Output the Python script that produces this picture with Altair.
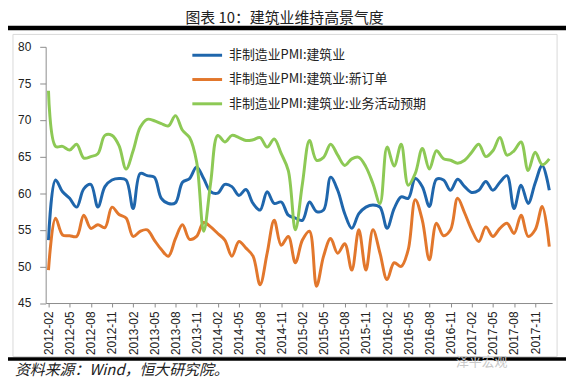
import altair as alt
import pandas as pd

# ---- data ----
months = list(pd.date_range("2012-02-01", periods=72, freq="MS").strftime("%Y-%m"))
tick_labels = months[::3]

s1 = "非制造业PMI:建筑业"
s2 = "非制造业PMI:建筑业:新订单"
s3 = "非制造业PMI:建筑业:业务活动预期"
series_names = [s1, s2, s3]
series_colors = ["#1F66AC", "#E2772C", "#8DC955"]

construction = [
    53.6, 61.8, 60.2, 59.3, 58.1, 60.6, 61.2, 58.1, 60.9, 61.8, 62.0, 61.8,
    57.9, 62.7, 62.4, 62.2, 59.3, 58.6, 58.7, 61.5, 62.0, 63.6, 62.0, 60.2,
    60.0, 61.2, 60.9, 59.7, 60.5, 58.6, 57.7, 60.2, 58.6, 58.8, 57.0, 56.6,
    56.3, 58.8, 57.5, 57.7, 62.2, 60.4, 57.2, 55.2, 57.2, 58.1, 58.4, 58.1,
    55.2, 57.9, 59.5, 59.3, 62.0, 60.9, 58.2, 61.9, 61.8, 60.4, 61.9, 60.9,
    60.1, 60.4, 61.6, 60.4, 61.5, 62.4, 57.9, 61.1, 58.6, 61.4, 63.8, 60.4,
]
new_orders = [
    49.5, 56.6, 54.3, 54.2, 54.1, 57.0, 55.2, 55.7, 55.3, 58.1, 57.1, 56.6,
    54.1, 54.8, 55.0, 53.6, 52.3, 51.4, 53.8, 55.7, 53.7, 54.1, 56.0, 55.4,
    54.5, 53.6, 51.4, 53.4, 52.5, 51.4, 47.5, 51.8, 56.3, 52.9, 54.1, 50.5,
    53.6, 54.8, 47.3, 51.4, 53.8, 51.8, 53.1, 49.5, 55.0, 49.5, 55.0, 51.8,
    48.2, 50.5, 50.0, 52.3, 59.1, 56.3, 50.9, 55.9, 54.2, 55.0, 59.3, 57.3,
    55.0, 53.4, 55.4, 54.1, 55.2, 55.9, 54.5, 57.0, 54.1, 55.0, 58.2, 52.7,
]
expectations = [
    74.0, 66.4, 66.4, 65.9, 66.7, 64.8, 65.0, 65.4, 67.9, 67.9, 66.5, 63.3,
    65.8, 69.0, 70.1, 69.9, 69.5, 69.2, 70.6, 68.6, 67.6, 64.3, 54.8, 61.5,
    67.9, 67.0, 67.9, 67.6, 67.2, 67.3, 67.6, 66.3, 67.4, 65.4, 63.1, 55.0,
    61.3, 67.2, 64.5, 64.9, 66.7, 65.2, 63.8, 64.7, 64.9, 63.6, 61.3, 58.6,
    66.3, 63.7, 66.7, 61.1, 62.7, 66.1, 63.3, 65.8, 64.7, 64.5, 64.1, 64.5,
    65.6, 66.7, 65.0, 65.8, 67.6, 65.2, 65.8, 67.0, 63.1, 65.6, 63.9, 64.7,
]

y_ticks = [45, 50, 55, 60, 65, 70, 75, 80]

title_text = "图表 10：建筑业维持高景气度"
source_text = "资料来源：Wind，恒大研究院。"
watermark_text = "泽平宏观"

# ---- table ----
rows = []
for name, vals in zip(series_names, [construction, new_orders, expectations]):
    for m, v in zip(months, vals):
        rows.append({"month": m, "series": name, "value": v})
df = pd.DataFrame(rows)

W, H = 511, 258.5
label_font = "Liberation Sans"
cjk = "Noto Sans CJK SC"

lines = alt.Chart(df).mark_line(interpolate="catmull-rom", strokeWidth=3).encode(
    x=alt.X(
        "month:N",
        sort=months,
        scale=alt.Scale(type="point", padding=0.4),
        axis=alt.Axis(
            title=None, values=tick_labels, labelAngle=270, labelFont=label_font,
            labelFontSize=12, labelColor="#222", labelPadding=4, tickSize=4,
            domainColor="#8c8c8c", tickColor="#8c8c8c", grid=False,
        ),
    ),
    y=alt.Y(
        "value:Q",
        scale=alt.Scale(domain=[45, 80], nice=False, zero=False),
        axis=alt.Axis(
            title=None, values=y_ticks, labelFont=label_font, labelFontSize=12,
            labelColor="#222", labelPadding=9, tickSize=6, domainColor="#8c8c8c",
            tickColor="#8c8c8c", grid=False,
        ),
    ),
    color=alt.Color(
        "series:N",
        sort=series_names,
        scale=alt.Scale(domain=series_names, range=series_colors),
        legend=alt.Legend(
            title=None, orient="none", legendX=154, legendY=-0.5,
            direction="vertical", symbolType="M-2,0L2,0", symbolSize=225,
            symbolStrokeWidth=3, labelFont=cjk, labelFontSize=13,
            labelColor="#222", rowPadding=8.5, labelOffset=13, labelLimit=400,
        ),
    ),
    order=alt.Order("series_order:Q"),
).transform_calculate(
    series_order="indexof(['%s','%s','%s'], datum.series)" % (s1, s2, s3)
)

deco = pd.DataFrame({"k": [0]})

frame = alt.Chart(deco).mark_rect(fill=None, stroke="#d9d9d9", strokeWidth=1).encode(
    x=alt.value(-33), x2=alt.value(516), y=alt.value(-12.5), y2=alt.value(312.5)
)
top_bar = alt.Chart(deco).mark_rule(color="black", strokeWidth=4.5).encode(
    x=alt.value(-43), x2=alt.value(530), y=alt.value(-19)
)
bottom_bar = alt.Chart(deco).mark_rule(color="black", strokeWidth=3.5).encode(
    x=alt.value(-43), x2=alt.value(530), y=alt.value(315)
)
title = alt.Chart(deco).mark_text(
    text=title_text, font=cjk, fontSize=15, color="#222", align="center", baseline="middle"
).encode(x=alt.value(241), y=alt.value(-29))
source = alt.Chart(deco).mark_text(
    text=source_text, font=cjk, fontSize=15, fontStyle="italic", color="#222",
    align="left", baseline="middle"
).encode(x=alt.value(-31), y=alt.value(326.5))
watermark = alt.Chart(deco).mark_text(
    text=watermark_text, font=cjk, fontSize=13, color="#c8c8c8", align="left", baseline="middle"
).encode(x=alt.value(414), y=alt.value(318))

chart = alt.layer(frame, top_bar, bottom_bar, title, source, watermark, lines).properties(
    width=W, height=H,
    padding={"left": 38, "top": 37.5, "right": 14, "bottom": 76},
    autosize=alt.AutoSizeParams(type="none"),
    background="white",
).configure_view(stroke=None)

chart.save("out.html", embed_options={"renderer": "svg", "actions": False})
